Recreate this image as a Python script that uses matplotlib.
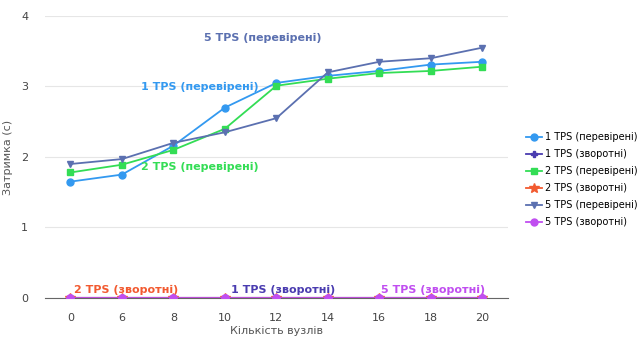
import numpy as np
import matplotlib.pyplot as plt

nodes = ['0', '6', '8', '10', '12', '14', '16', '18', '20']
tps1_ok = [1.65, 1.75, 2.16, 2.70, 3.05, 3.15, 3.22, 3.31, 3.35]
tps1_rev = [0, 0, 0, 0, 0, 0, 0, 0, 0]
tps2_ok = [1.78, 1.89, 2.10, 2.40, 3.01, 3.11, 3.19, 3.22, 3.28]
tps2_rev = [0, 0, 0, 0, 0, 0, 0, 0, 0]
tps5_ok = [1.90, 1.97, 2.20, 2.35, 2.55, 3.20, 3.35, 3.40, 3.55]
tps5_rev = [0, 0, 0, 0, 0, 0, 0, 0, 0]

series = [
    ('1 TPS (перевірені)', tps1_ok, '#3399f0', 'o'),
    ('1 TPS (зворотні)', tps1_rev, '#4a3cb0', 'P'),
    ('2 TPS (перевірені)', tps2_ok, '#33dd55', 's'),
    ('2 TPS (зворотні)', tps2_rev, '#f25a30', '*'),
    ('5 TPS (перевірені)', tps5_ok, '#5b70b0', 'v'),
    ('5 TPS (зворотні)', tps5_rev, '#c04ef0', 'o'),
]

# where the inline labels sit (category index, value)
label_pos = {
    '1 TPS (перевірені)': (2.52, 2.99),
    '1 TPS (зворотні)': (4.13, 0.11),
    '2 TPS (перевірені)': (2.52, 1.86),
    '2 TPS (зворотні)': (1.09, 0.11),
    '5 TPS (перевірені)': (3.73, 3.69),
    '5 TPS (зворотні)': (7.05, 0.11),
}

plt.rcParams['font.family'] = ['DejaVu Sans']
fig = plt.figure(figsize=(6.39, 3.39), dpi=100)
ax = fig.add_axes([0.070, 0.121, 0.725, 0.832])

x = np.arange(len(nodes))
for name, vals, col, mk in series:
    ms = 5
    if mk == '*':
        ms = 7
    ax.plot(x, vals, color=col, marker=mk, markersize=ms, linewidth=1.3, label=name)
    lx, ly = label_pos[name]
    ax.text(lx, ly, name, color=col, fontsize=8, fontweight='bold',
            ha='center', va='center')

# the zero line looks like the purple reverse line mixed with the indigo one
ax.plot(x, tps5_rev, color='#8a3fb0', linewidth=1.6, zorder=1.5)
ax.scatter(x, tps5_rev, color='#c04ef0', s=28, zorder=3)

ax.set_xlim(-0.5, 8.5)
ax.set_ylim(0, 4)
ax.set_yticks([0, 1, 2, 3, 4])
ax.set_xticks(x)
ax.set_xticklabels(nodes)
ax.grid(axis='y', color='#e6e6e6', linewidth=0.8)
ax.set_axisbelow(True)
for s in ['top', 'right', 'left']:
    ax.spines[s].set_visible(False)
ax.spines['bottom'].set_color('#666666')
ax.tick_params(axis='y', length=0, labelsize=8, colors='#444444', pad=12)
ax.tick_params(axis='x', length=0, labelsize=8, colors='#444444', pad=11)
ax.set_xlabel('Кількість вузлів', fontsize=8, color='#555555', labelpad=2)
ax.set_ylabel('Затримка (с)', fontsize=8, color='#555555', labelpad=6)

ax.legend(loc='center left', bbox_to_anchor=(1.02, 0.42), frameon=False,
          fontsize=7, handlelength=1.6, labelspacing=0.72, handletextpad=0.4)

fig.savefig('out.png', dpi=100)
